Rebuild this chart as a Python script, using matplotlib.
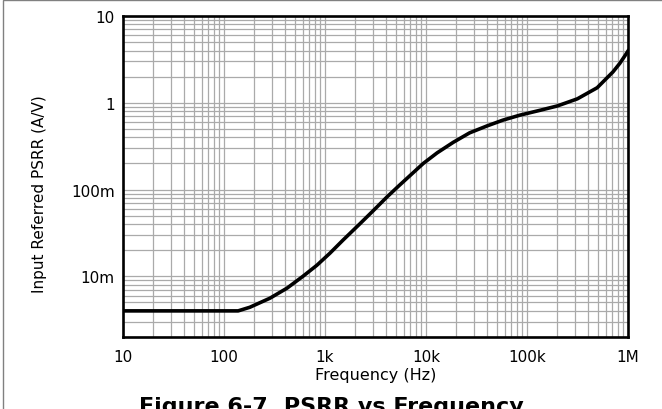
import numpy as np
import matplotlib
matplotlib.use("Agg")
import matplotlib.pyplot as plt
from matplotlib.ticker import FixedLocator, FixedFormatter, LogLocator, NullFormatter
from matplotlib.patches import Rectangle

# values
freq_hz = [10, 100, 138, 180, 285, 420, 604, 830, 1120, 1500, 2200, 3000, 4100,
           5500, 7400, 9400, 12900, 18600, 27000, 40000, 57500, 85000, 135000,
           200000, 315000, 495000, 710000, 830000, 935000, 1000000]
psrr = [0.004, 0.004, 0.004, 0.0044, 0.0056, 0.0073, 0.010, 0.0134, 0.0185, 0.026,
        0.040, 0.057, 0.082, 0.113, 0.155, 0.20, 0.265, 0.35, 0.45, 0.54,
        0.63, 0.72, 0.82, 0.92, 1.11, 1.49, 2.27, 2.85, 3.5, 3.95]

x_ticks = [10, 100, 1e3, 1e4, 1e5, 1e6]
x_labels = ["10", "100", "1k", "10k", "100k", "1M"]
y_ticks = [0.01, 0.1, 1, 10]
y_labels = ["10m", "100m", "1", "10"]

plt.rcParams['font.family'] = ['DejaVu Sans']

fig = plt.figure(figsize=(6.62, 4.10), dpi=100)
ax = fig.add_axes([123/662, 1 - 338/410, 505/662, 321/410])

ax.plot(freq_hz, psrr, color='black', lw=2.6, solid_joinstyle='round', zorder=3)
ax.set_xscale('log')
ax.set_yscale('log')
ax.set_xlim(10, 1e6)
ax.set_ylim(0.002, 10)

ax.xaxis.set_major_locator(FixedLocator(x_ticks))
ax.xaxis.set_major_formatter(FixedFormatter(x_labels))
ax.xaxis.set_minor_locator(LogLocator(base=10, subs=np.arange(2, 10)))
ax.xaxis.set_minor_formatter(NullFormatter())
ax.yaxis.set_major_locator(FixedLocator(y_ticks))
ax.yaxis.set_major_formatter(FixedFormatter(y_labels))
ax.yaxis.set_minor_locator(LogLocator(base=10, subs=np.arange(2, 10)))
ax.yaxis.set_minor_formatter(NullFormatter())

ax.grid(True, which='both', color='#aaaaaa', lw=0.9)
ax.tick_params(which='both', length=0, labelsize=11)
ax.tick_params(axis='x', pad=9)
ax.tick_params(axis='y', pad=6)
for s in ax.spines.values():
    s.set_linewidth(1.9)
    s.set_zorder(4)

ax.set_xlabel("Frequency (Hz)", fontsize=11.5)
ax.xaxis.set_label_coords(0.5, -0.092)
ax.xaxis.label.set_va('top')
fig.text(40/662, 1 - 194/410, "Input Referred PSRR (A/V)", rotation=90,
         ha='center', va='center', fontsize=11)

# caption is partly cut by the bottom edge, as in the reference
fig.text(0.5, 1 - 397/410, "Figure 6-7. PSRR vs Frequency", ha='center',
         va='top', fontsize=16, fontweight='bold')

fig.patches.append(Rectangle((3/662, -0.1), 1.2, 1 - 1/410 + 0.1,
                             transform=fig.transFigure, fill=False,
                             edgecolor='#808080', lw=1))

fig.savefig("out.png", dpi=100)
